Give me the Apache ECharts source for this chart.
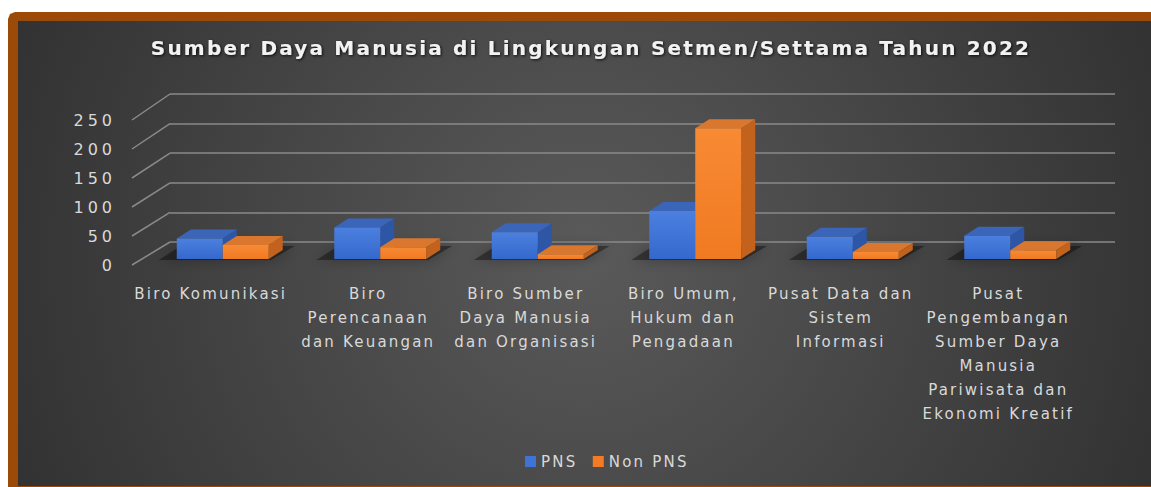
<!DOCTYPE html>
<html>
<head>
<meta charset="utf-8">
<script src="https://cdn.jsdelivr.net/npm/echarts@6/dist/echarts.min.js"></script>
<style>
  html, body { margin: 0; padding: 0; background: #ffffff; overflow: hidden; }
  #chart { width: 1151px; height: 487px; }
  #chart svg { display: block; }
  #chart text[style*="20px"] { letter-spacing: 2.2px; }
  #chart text[style*="15px"] { letter-spacing: 2.2px; }
  #chart text[style*="16px"] { letter-spacing: 4px; }
</style>
</head>
<body>
<div id="chart"></div>
<script>
// ---- data ----
const titleText = 'Sumber Daya Manusia di Lingkungan Setmen/Settama Tahun 2022';
const categories = [
  'Biro Komunikasi',
  'Biro\nPerencanaan\ndan Keuangan',
  'Biro Sumber\nDaya Manusia\ndan Organisasi',
  'Biro Umum,\nHukum dan\nPengadaan',
  'Pusat Data dan\nSistem\nInformasi',
  'Pusat\nPengembangan\nSumber Daya\nManusia\nPariwisata dan\nEkonomi Kreatif'
];
const pnsValues    = [35, 54, 46, 82, 38, 40];
const nonPnsValues = [24, 20, 8, 224, 12, 15];
const yTicks = [0, 50, 100, 150, 200, 250];
const seriesNames = ['PNS', 'Non PNS'];

// ---- style constants ----
const DEPTH_DX = 14, DEPTH_DY = -9;        // bar depth
const FLOOR_DX = -38;                      // back wall -> front edge
const LABEL_COLOR = '#d9d9d9';
const FONT = 'DejaVu Sans';
const FRAME = '#9b4a07';

const pnsColors = { front: ['#4c80df', '#3468cc'], top: '#3b65b9', side: '#2d56a6', legend: '#3f74d6' };
const nonColors = { front: ['#f88a34', '#f07a22'], top: '#d9772f', side: '#c2621d', legend: '#f47b25' };

function panelFill() {
  return new echarts.graphic.RadialGradient(585, 253, 720, [
    { offset: 0, color: '#5a5a5a' }, { offset: 0.45, color: '#454545' }, { offset: 1, color: '#2b2b2b' }], true);
}

function barRenderer(offsetSign, colors) {
  return function (params, api) {
    const ci = api.value(0), v = api.value(1);
    const top = api.coord([ci, v]);
    const base = api.coord([ci, 0]);
    const bw = api.size([1, 0])[0] * 0.292;
    const x0 = offsetSign < 0 ? top[0] - bw : top[0];
    const x1 = x0 + bw;
    const ty = top[1], by = base[1];
    return {
      type: 'group',
      children: [
        { type: 'polygon', shape: { points: [[x1, ty], [x1, by], [x1 + DEPTH_DX, by + DEPTH_DY], [x1 + DEPTH_DX, ty + DEPTH_DY]] },
          style: { fill: colors.side } },
        { type: 'polygon', shape: { points: [[x0, ty], [x1, ty], [x1 + DEPTH_DX, ty + DEPTH_DY], [x0 + DEPTH_DX, ty + DEPTH_DY]] },
          style: { fill: colors.top } },
        { type: 'rect', shape: { x: x0, y: ty, width: bw, height: by - ty },
          style: { fill: new echarts.graphic.LinearGradient(0, 0, 0, 1, [
            { offset: 0, color: colors.front[0] }, { offset: 1, color: colors.front[1] }]) } }
      ]
    };
  };
}

function shadowRenderer(params, api) {
  const ci = api.value(0);
  const c = api.coord([ci, 0]);
  const bw = api.size([1, 0])[0] * 0.292;
  const x0 = c[0] - bw, x1 = c[0] + bw, by = c[1];
  return {
    type: 'polygon',
    shape: { points: [[x0 - 18, by + 1], [x1 + 2, by + 1], [x1 + DEPTH_DX + 12, by + DEPTH_DY - 4], [x0 + DEPTH_DX - 10, by + DEPTH_DY - 4]] },
    style: { fill: 'rgba(0,0,0,0.38)', shadowBlur: 14, shadowColor: 'rgba(0,0,0,0.75)' }
  };
}

function diagRenderer(params, api) {
  const v = api.value(1);
  const p = api.coord([0, v]);
  const dy = 23 + 3 * (v / 250);
  return {
    type: 'line',
    shape: { x1: p[0], y1: p[1], x2: p[0] + FLOOR_DX, y2: p[1] + dy },
    style: { stroke: '#8a8a8a', lineWidth: 1.5 }
  };
}

const chart = echarts.init(document.getElementById('chart'), null, { renderer: 'svg' });

chart.setOption({
  animation: false,
  textStyle: { fontFamily: FONT },
  graphic: [
    { type: 'rect', z: -100, shape: { x: 18, y: 21, width: 1133, height: 465 }, style: { fill: panelFill() } },
    { type: 'polygon', z: -99,
      shape: { points: [[8, 19], [10, 14], [15, 12], [1151, 12], [1151, 21], [18, 21], [18, 487], [8, 487]] },
      style: { fill: FRAME } },
    { type: 'rect', z: -99, shape: { x: 18, y: 486, width: 1133, height: 1 }, style: { fill: FRAME } },
    { type: 'rect', z: -98, shape: { x: 1100, y: 21, width: 51, height: 465 }, style: { fill: panelFill() } }
  ],
  title: {
    text: titleText,
    left: 586, top: 33, textAlign: 'center',
    textStyle: { color: '#f2f2f2', fontSize: 20, fontWeight: 'bold', fontFamily: FONT,
      textShadowColor: 'rgba(0,0,0,0.85)', textShadowBlur: 3, textShadowOffsetX: 1, textShadowOffsetY: 1 }
  },
  legend: {
    data: seriesNames,
    left: 520, top: 449,
    icon: 'rect', itemWidth: 11, itemHeight: 11, itemGap: 22,
    textStyle: { color: LABEL_COLOR, fontSize: 15, fontFamily: FONT }
  },
  grid: [
    { left: 144, right: 62, top: 113, bottom: 228 },   // bar plane
    { left: 170, right: 36, top: 94, bottom: 245 },    // back wall
    { left: 132, right: 74, top: 120, bottom: 222 }    // front plane (labels)
  ],
  xAxis: [
    { gridIndex: 0, type: 'category', data: categories, show: false },
    { gridIndex: 1, type: 'value', min: 0, max: 1, show: false },
    { gridIndex: 2, type: 'category', data: categories,
      axisLine: { show: false }, axisTick: { show: false },
      axisLabel: { interval: 0, color: LABEL_COLOR, fontSize: 15, lineHeight: 24, margin: 17, fontFamily: FONT } }
  ],
  yAxis: [
    { gridIndex: 0, type: 'value', min: 0, max: 250, interval: 50, show: false },
    { gridIndex: 1, type: 'value', min: 0, max: 250, interval: 50,
      axisLabel: { show: false }, axisLine: { show: false }, axisTick: { show: false },
      splitLine: { show: true, lineStyle: { color: '#8a8a8a', width: 1.5 } } },
    { gridIndex: 2, type: 'value', min: 0, max: 250, interval: 50,
      axisLine: { show: false }, axisTick: { show: false }, splitLine: { show: false },
      axisLabel: { color: LABEL_COLOR, fontSize: 16, margin: 16, fontFamily: FONT } }
  ],
  series: [
    { type: 'custom', name: 'diag', xAxisIndex: 1, yAxisIndex: 1, z: 1, silent: true,
      data: yTicks.map(t => [0, t]), renderItem: diagRenderer },
    { type: 'custom', name: 'shadow', xAxisIndex: 0, yAxisIndex: 0, z: 2, silent: true,
      data: categories.map((c, i) => [i, 0]), renderItem: shadowRenderer },
    { type: 'custom', name: seriesNames[0], xAxisIndex: 0, yAxisIndex: 0, z: 3,
      itemStyle: { color: pnsColors.legend },
      data: pnsValues.map((v, i) => [i, v]), renderItem: barRenderer(-1, pnsColors) },
    { type: 'custom', name: seriesNames[1], xAxisIndex: 0, yAxisIndex: 0, z: 4,
      itemStyle: { color: nonColors.legend },
      data: nonPnsValues.map((v, i) => [i, v]), renderItem: barRenderer(1, nonColors) }
  ]
});
</script>
</body>
</html>
